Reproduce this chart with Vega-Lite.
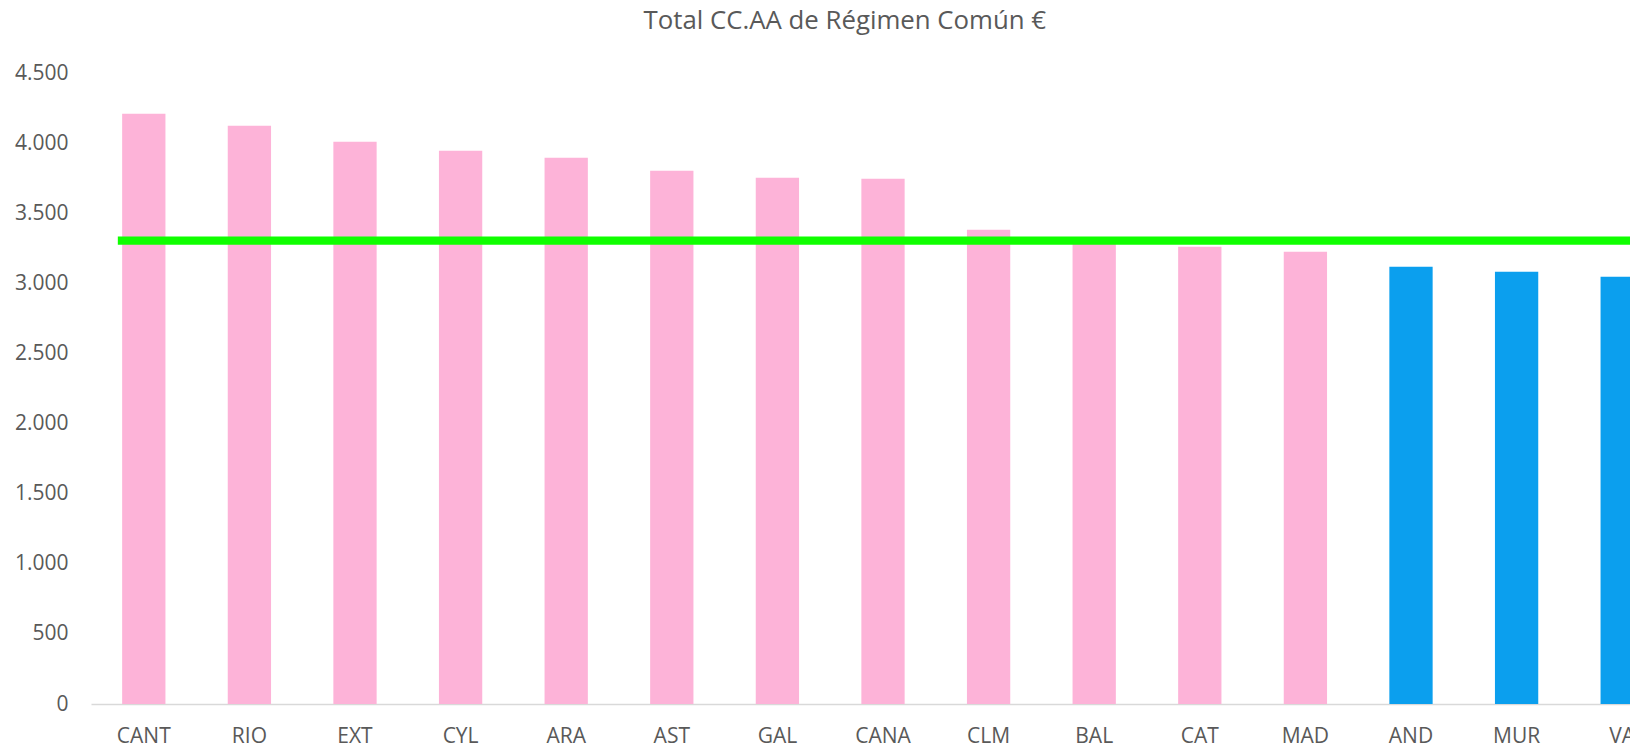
{
  "$schema": "https://vega.github.io/schema/vega-lite/v6.json",
  "autosize": {"type": "none"},
  "padding": {"left": 91, "top": 73, "right": 0, "bottom": 41},
  "width": 1539,
  "height": 631,
  "background": "white",
  "config": {
    "view": {"stroke": null},
    "font": "Open Sans"
  },
  "title": {
    "text": "Total CC.AA de Régimen Común €",
    "anchor": "start",
    "dx": 629,
    "offset": 27,
    "font": "Open Sans",
    "fontSize": 25.8,
    "fontWeight": "normal",
    "color": "#595959"
  },
  "layer": [
    {
      "data": {
        "values": [
          {"region": "CANT", "valor": 4210, "grupo": "A"},
          {"region": "RIO", "valor": 4124, "grupo": "A"},
          {"region": "EXT", "valor": 4010, "grupo": "A"},
          {"region": "CYL", "valor": 3946, "grupo": "A"},
          {"region": "ARA", "valor": 3896, "grupo": "A"},
          {"region": "AST", "valor": 3803, "grupo": "A"},
          {"region": "GAL", "valor": 3753, "grupo": "A"},
          {"region": "CANA", "valor": 3746, "grupo": "A"},
          {"region": "CLM", "valor": 3382, "grupo": "A"},
          {"region": "BAL", "valor": 3285, "grupo": "A"},
          {"region": "CAT", "valor": 3261, "grupo": "A"},
          {"region": "MAD", "valor": 3226, "grupo": "A"},
          {"region": "AND", "valor": 3119, "grupo": "B"},
          {"region": "MUR", "valor": 3083, "grupo": "B"},
          {"region": "VA", "valor": 3047, "grupo": "B"}
        ]
      },
      "mark": {"type": "bar", "clip": true},
      "encoding": {
        "x": {
          "field": "region",
          "type": "nominal",
          "sort": null,
          "scale": {"range": [0, 1584], "paddingInner": 0.59, "paddingOuter": 0.295},
          "axis": {
            "title": null,
            "labelAngle": 0,
            "ticks": false,
            "labelPadding": 21,
            "labelFont": "Open Sans",
            "labelFontSize": 21,
            "labelColor": "#595959",
            "domainColor": "#D9D9D9",
            "domainWidth": 1.5,
            "grid": false
          }
        },
        "y": {
          "field": "valor",
          "type": "quantitative",
          "scale": {"domain": [0, 4500], "nice": false},
          "axis": {
            "title": null,
            "values": [0, 500, 1000, 1500, 2000, 2500, 3000, 3500, 4000, 4500],
            "labelExpr": "replace(format(datum.value, ','), ',', '.')",
            "ticks": false,
            "domain": false,
            "grid": false,
            "labelPadding": 23,
            "labelFont": "Open Sans",
            "labelFontSize": 21,
            "labelColor": "#595959"
          }
        },
        "color": {
          "field": "grupo",
          "type": "nominal",
          "scale": {"domain": ["A", "B"], "range": ["#FDB3D8", "#0B9FEE"]},
          "legend": null
        }
      }
    },
    {
      "data": {"values": [{"referencia": 3305}]},
      "mark": {"type": "rule", "color": "#0FFF00", "strokeWidth": 8.3, "clip": true},
      "encoding": {
        "y": {"field": "referencia", "type": "quantitative"},
        "x": {"datum": "CANT", "type": "nominal", "bandPosition": -0.1},
        "x2": {"value": "width"}
      }
    }
  ]
}
